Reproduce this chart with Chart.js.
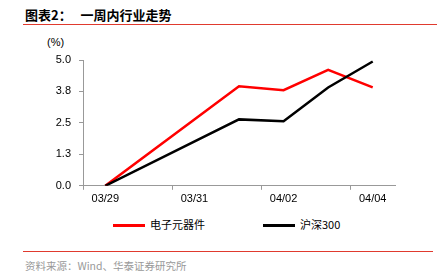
<!DOCTYPE html>
<html>
<head>
<meta charset="utf-8">
<script src="https://cdn.jsdelivr.net/npm/chart.js@4/dist/chart.umd.min.js"></script>
<style>
  body { margin: 0; background: #fff; width: 437px; height: 278px; position: relative; overflow: hidden; }
  .title { position: absolute; left: 25px; top: 5px; font: bold 13px "Noto Sans CJK SC", sans-serif; color: #000; white-space: pre; }
  .rule { position: absolute; left: 23px; height: 1px; background: #e03a2e; }
  .unit { position: absolute; left: 47px; top: 36px; font: 11px "Liberation Sans", Arial, sans-serif; color: #000; }
  .source { position: absolute; left: 25px; top: 258px; font: 10.5px "Noto Sans CJK SC", sans-serif; color: #999; }
  .leg { position: absolute; top: 216px; font: 11px "Noto Sans CJK SC", sans-serif; color: #000; line-height: 16px; }
  .leg i { display: inline-block; width: 32px; height: 3px; vertical-align: middle; margin-right: 5px; position: relative; top: -1px; }
  #wrap { position: absolute; left: 0; top: 0; width: 437px; height: 215px; }
</style>
</head>
<body>
<div class="title">图表2：   一周内行业走势</div>
<div class="rule" style="top:24px; width:414px;"></div>
<div class="unit">(%)</div>
<div id="wrap"><canvas id="grafico"></canvas></div>
<div class="leg" id="leg0" style="left:113px;"></div>
<div class="leg" id="leg1" style="left:263px;"></div>
<div class="rule" style="top:251px; width:410px;"></div>
<div class="source">资料来源：Wind、华泰证券研究所</div>

<script>
// datas da semana (fim de semana sem dados)
const datas = ['03/29', '03/30', '03/31', '04/01', '04/02', '04/03', '04/04'];
const eletronicos = [0, null, null, 3.96, 3.80, 4.61, 3.91];
const hs300 = [0, null, null, 2.64, 2.57, 3.91, 4.94];
const ticksY = [0, 1.25, 2.5, 3.75, 5];

const corEixo = '#999999';
const fonteNum = { family: 'Liberation Sans', size: 11 };

var ctx = document.getElementById('grafico').getContext('2d');
var chart = new Chart(ctx, {
    type: 'line',
    data: {
        labels: datas,
        datasets: [{
            label: '电子元器件',
            data: eletronicos,
            borderColor: '#ff0000',
            backgroundColor: '#ff0000',
            borderWidth: 2.5,
            pointRadius: 0,
            spanGaps: true,
            order: 2
        }, {
            label: '沪深300',
            data: hs300,
            borderColor: '#000000',
            backgroundColor: '#000000',
            borderWidth: 2.5,
            pointRadius: 0,
            spanGaps: true,
            order: 1
        }]
    },
    options: {
        responsive: true,
        maintainAspectRatio: false,
        animation: false,
        layout: { padding: { top: 60, right: 42, left: 0, bottom: 6 } },
        plugins: {
            tooltip: { enabled: false },
            legend: { display: false }
        },
        scales: {
            x: {
                type: 'category',
                offset: true,
                border: { color: corEixo, width: 1 },
                grid: {
                    offset: true,
                    drawOnChartArea: false,
                    tickLength: 4,
                    tickColor: c => (c.index % 2 === 0 ? corEixo : 'rgba(0,0,0,0)')
                },
                ticks: {
                    autoSkip: false,
                    maxRotation: 0,
                    padding: 3,
                    color: '#000',
                    font: fonteNum,
                    callback: (v, i) => (i % 2 === 0 ? datas[i] : '')
                }
            },
            y: {
                min: 0,
                max: 5,
                afterFit: s => { s.width = 83; },
                afterBuildTicks: s => { s.ticks = ticksY.map(v => ({ value: v })); },
                border: { color: corEixo, width: 1 },
                grid: { drawOnChartArea: false, tickLength: 4, tickColor: corEixo },
                ticks: {
                    padding: 8,
                    color: '#000',
                    font: fonteNum,
                    callback: v => v.toFixed(1)
                }
            }
        }
    }
});

// legenda em html com as cores das series
chart.data.datasets.forEach(function(ds, i) {
    $leg = document.getElementById('leg' + i);
    $leg.innerHTML = '<i style="background:' + ds.borderColor + '"></i>' + ds.label;
});
</script>
</body>
</html>
